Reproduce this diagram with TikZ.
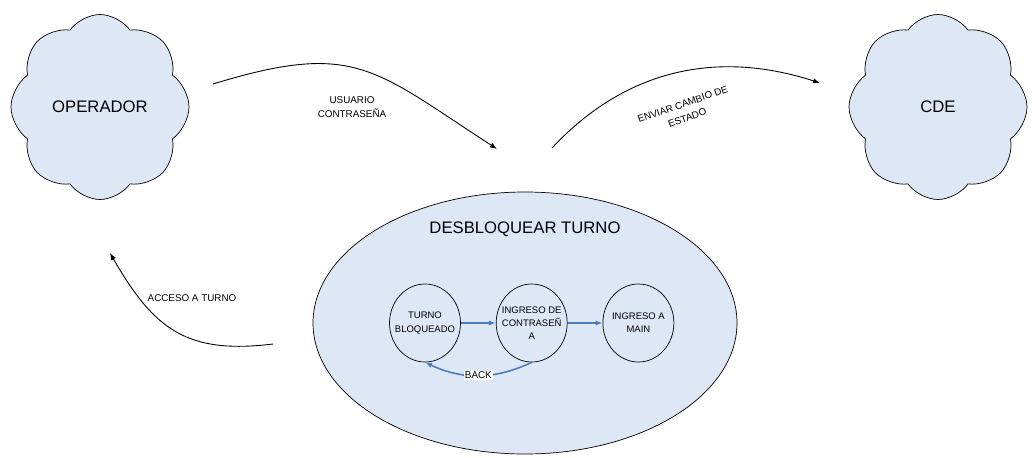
\documentclass[tikz,border=0pt]{standalone}
\usepackage{fontspec}
\setmainfont{Liberation Sans}
\usepackage{tikz}
\usetikzlibrary{arrows.meta, positioning, shapes.geometric, shapes.symbols}
\definecolor{nube}{RGB}{222,231,245}
\definecolor{flecha}{RGB}{74,126,192}

\begin{document}
\begin{tikzpicture}[scale=1.0,>={Latex[length=4pt,width=3pt]},
    actor/.style={cloud, cloud puffs=8, cloud puff arc=110, cloud ignores aspect, draw, fill=nube,
                  minimum width=3.56cm, minimum height=3.7cm,
                  font=\fontsize{9.5}{11}\selectfont},
    estado/.style={ellipse, draw, minimum width=1.42cm, minimum height=1.56cm, inner sep=0pt},
    estadotxt/.style={align=center, font=\fontsize{5.4}{7.5}\selectfont},
    etiq/.style={align=center, font=\fontsize{5.6}{8}\selectfont},
    flujo/.style={->, line width=0.5pt},
    transicion/.style={->, flecha, line width=0.9pt}]
  \useasboundingbox (0,0) rectangle (20.64,9.14);
  % actors
  \node[actor] (operador) at (2.0,7.0) {OPERADOR};
  \node[actor] (cde) at (18.76,7.0) {CDE};
  % process
  \node[ellipse, draw, fill=nube, minimum width=8.48cm, minimum height=5.24cm] (desbloq) at (10.5,2.68) {};
  \node[font=\fontsize{9.5}{11}\selectfont] (titulo) at (10.5,4.56) {DESBLOQUEAR TURNO};
  % states inside the process
  \node[estado, label={[estadotxt]center:TURNO\\BLOQUEADO}] (bloqueado) at (8.5,2.68) {};
  \node[estado, right=0.7cm of bloqueado, label={[estadotxt]center:INGRESO DE\\CONTRASEÑ\\A}] (contrasena) {};
  \node[estado, right=0.7cm of contrasena, label={[estadotxt]center:INGRESO A\\MAIN}] (ingmain) {};
  \draw[transicion] (bloqueado) -- (contrasena);
  \draw[transicion] (contrasena) -- (ingmain);
  \draw[transicion] (contrasena.south) to[bend left=25]
    node[etiq, fill=white, text=black, inner sep=0.5pt] (back) {BACK} (bloqueado.south);
  % flows between actors and process
  \coordinate (usr1) at (4.26,7.46);
  \coordinate (usr2) at (9.94,6.16);
  \draw[flujo] (usr1) to[out=17,in=147,looseness=1.3] (usr2);
  \node[etiq] (usuario) at (7.04,7.0) {USUARIO\\CONTRASEÑA};
  \coordinate (env1) at (11.04,6.18);
  \coordinate (env2) at (16.4,7.48);
  \draw[flujo] (env1) to[out=47,in=162] (env2);
  \node[etiq, rotate=19] (enviar) at (13.7,6.92) {ENVIAR CAMBIO DE\\ESTADO};
  \coordinate (acc1) at (5.46,2.26);
  \coordinate (acc2) at (2.2,4.08);
  \draw[flujo] (acc1) to[out=187,in=300,looseness=1.2] (acc2);
  \node[etiq] (acceso) at (3.84,3.18) {ACCESO A TURNO};
\end{tikzpicture}
\end{document}
